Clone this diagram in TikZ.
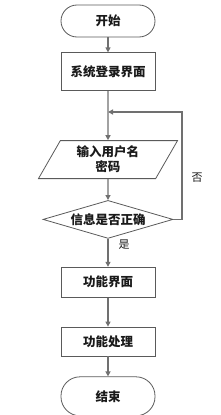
\documentclass[tikz,border=0pt]{standalone}
\usepackage{fontspec}
\setmainfont{Noto Sans CJK SC}
\usetikzlibrary{arrows.meta,positioning,shapes.geometric}
\definecolor{ink}{HTML}{1A1A1A}
\definecolor{edge}{HTML}{5A5A5A}
\definecolor{wire}{HTML}{707070}

\begin{document}
\begin{tikzpicture}[x=1pt,y=-1pt,>=Triangle,
  font=\fontsize{12.5}{15}\selectfont\bfseries,
  term/.style={draw=edge,line width=.8pt,rounded corners=16pt,
    minimum width=94pt,minimum height=32pt,inner sep=0,text=ink},
  proc/.style={draw=edge,line width=.8pt,minimum width=94pt,
    minimum height=38pt,inner sep=0,text=ink},
  io/.style={trapezium,trapezium left angle=62,trapezium right angle=118,
    trapezium stretches=true,draw=edge,line width=.8pt,minimum width=140pt,
    minimum height=38pt,inner sep=0,align=center,text=ink},
  decide/.style={diamond,aspect=3.4,draw=edge,line width=.8pt,inner sep=0,
    minimum width=130pt,minimum height=38pt,text=ink},
  flow/.style={->,draw=wire,line width=1.2pt,
    shorten >=0pt,>={Triangle[length=5pt,width=5pt]}},
  lbl/.style={font=\fontsize{11}{13}\selectfont,text=ink}]

\useasboundingbox (0,0) rectangle (220,415);

% ---------- main column ----------
\node[term] (start) at (108,21) {开始};
\node[proc,below=15pt of start] (login) {系统登录界面};
\node[io,below=49pt of login] (input) {输入用户名\\密码};
\node[decide,below=21pt of input] (check) {信息是否正确};
\node[proc,below=28pt of check,minimum height=30pt] (menu) {功能界面};
\node[proc,below=29pt of menu,minimum height=29pt] (work) {功能处理};
\node[term,below=20pt of work,minimum height=39pt,rounded corners=19pt] (stop) {结束};

\foreach \a/\b in {start/login,login/input,input/check,check/menu,menu/work,work/stop}
  \draw[flow] (\a)--(\b);

% ---------- retry loop ----------
\coordinate (back) at (108,112);
\draw[flow] (check.east) -| (182,112) -- (back);
\node[lbl] (no) at (197,178) {否};
\node[lbl] (yes) at (124,245) {是};

\end{tikzpicture}
\end{document}
